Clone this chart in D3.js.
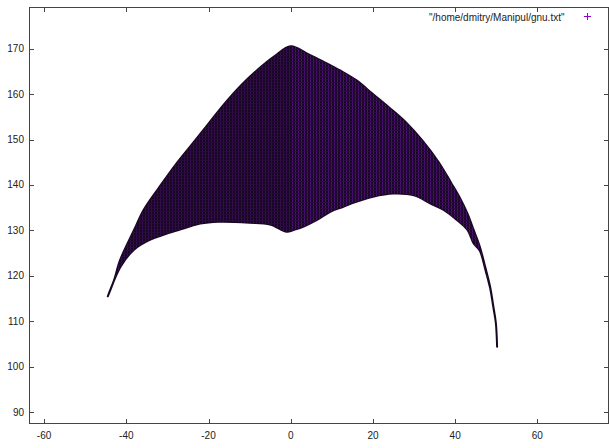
<!DOCTYPE html>
<html><head><meta charset="utf-8">
<script src="https://cdn.jsdelivr.net/npm/d3@7"></script>
<style>html,body{margin:0;padding:0;background:#fff;}svg{display:block;}</style>
</head><body>
<svg id="c" width="609" height="448"></svg>
<script>
// Upper envelope of the plotted point cloud
const upperX = [-44.5,-43,-41.5,-38,-35.8,-32,-28,-24,-20,-16,-12,-8,-4,0,4,8,12,16,20,24,28,32,36,39,41,43,44.5,46,47.3,48.5,49.3,49.9,50.2];
const upperY = [115.5,119,123.5,130.3,134.5,139.5,144.5,149,153.5,158,162,165.4,168.3,170.5,168.9,167.1,165.2,163.0,160,157,153.8,149.8,145,140.5,137.4,133.7,130.1,126.4,122,117.6,113.2,109.6,104.4];
// Lower envelope of the plotted point cloud
const lowerX = [-44.5,-43.9,-41.4,-38.2,-34.3,-30.1,-26.1,-22,-17.6,-10,-5,-1,0.7,3,6.4,9.6,12.8,15,20,25,30,34,37.2,40.4,43,44.5,46,47.3,48.5,49.3,49.9,50.2];
const lowerY = [115.5,116.9,122.0,125.7,127.9,129.3,130.4,131.5,131.9,131.7,131.3,129.7,130.1,130.8,132.3,134.1,135.2,136,137.4,138.1,137.7,135.9,134.5,132.3,130.1,127.1,125.5,121.5,117.3,113,109.6,104.4];
const xTicks = [-60,-40,-20,0,20,40,60];
const yTicks = [90,100,110,120,130,140,150,160,170];
const legendLabel = '"/home/dmitry/Manipul/gnu.txt"';

const svg = d3.select("#c");
const L = 29.5, R = 608.5, T = 7.5, B = 423.5;
const x = d3.scaleLinear().domain([-63.55, 77.3]).range([L, R]);
const y = d3.scaleLinear().domain([87.5, 179.05]).range([B, T]);

const defs = svg.append("defs");
const pL = defs.append("pattern").attr("id","texL").attr("patternUnits","userSpaceOnUse")
  .attr("width",3).attr("height",3);
pL.append("rect").attr("width",3).attr("height",3).attr("fill","#160620");
pL.append("rect").attr("x",1).attr("width",1).attr("height",3).attr("fill","#380c55");
pL.append("rect").attr("y",1).attr("width",3).attr("height",1).attr("fill","#280a3c");
const pR = defs.append("pattern").attr("id","texR").attr("patternUnits","userSpaceOnUse")
  .attr("width",3).attr("height",3);
pR.append("rect").attr("width",3).attr("height",3).attr("fill","#180624");
pR.append("rect").attr("x",1).attr("width",1).attr("height",3).attr("fill","#500f78");
pR.append("rect").attr("y",1).attr("width",3).attr("height",1).attr("fill","#2c0a44");

defs.append("clipPath").attr("id","leftClip").append("rect")
  .attr("x",0).attr("y",0).attr("width",x(0)).attr("height",448);
defs.append("clipPath").attr("id","rightClip").append("rect")
  .attr("x",x(0)).attr("y",0).attr("width",609-x(0)).attr("height",448);

// outline: upper left->right, then lower right->left
const poly = upperX.map((v,i)=>[v,upperY[i]])
  .concat(lowerX.map((v,i)=>[v,lowerY[i]]).reverse().slice(1));
const line = d3.line().x(d=>x(d[0])).y(d=>y(d[1])).curve(d3.curveCatmullRom.alpha(0.5));
const pathD = line(poly) + "Z";

svg.append("path").attr("d",pathD).attr("fill","#160620")
  .attr("stroke","#160620").attr("stroke-width",2).attr("stroke-linejoin","round");
svg.append("path").attr("d",pathD).attr("fill","url(#texL)").attr("clip-path","url(#leftClip)");
svg.append("path").attr("d",pathD).attr("fill","url(#texR)").attr("clip-path","url(#rightClip)");

// frame
const axisColor = "#444";
svg.append("rect").attr("x",L).attr("y",T).attr("width",R-L).attr("height",B-T)
  .attr("fill","none").attr("stroke",axisColor).attr("stroke-width",1);

const tl = 4.5;
const g = svg.append("g").attr("stroke",axisColor).attr("stroke-width",1);
xTicks.forEach(t=>{
  const px = Math.round(x(t))+0.5;
  g.append("line").attr("x1",px).attr("x2",px).attr("y1",B).attr("y2",B-tl);
  g.append("line").attr("x1",px).attr("x2",px).attr("y1",T).attr("y2",T+tl);
});
yTicks.forEach(t=>{
  const py = Math.round(y(t))+0.5;
  g.append("line").attr("x1",L).attr("x2",L+tl).attr("y1",py).attr("y2",py);
  g.append("line").attr("x1",R).attr("x2",R-tl).attr("y1",py).attr("y2",py);
});

const font = "'Liberation Sans', Arial, sans-serif";
svg.append("g").selectAll("text").data(xTicks).join("text")
  .attr("x",d=>x(d)).attr("y",B+11.5).attr("text-anchor","middle")
  .attr("dominant-baseline","central").attr("font-family",font).attr("font-size",10)
  .attr("fill","#222").text(d=>d);
svg.append("g").selectAll("text").data(yTicks).join("text")
  .attr("x",L-5.5).attr("y",d=>y(d)).attr("text-anchor","end")
  .attr("dominant-baseline","central").attr("font-family",font).attr("font-size",10)
  .attr("fill","#222").text(d=>d);

// legend
svg.append("text").attr("x",564.5).attr("y",17).attr("text-anchor","end")
  .attr("dominant-baseline","central").attr("font-family",font).attr("font-size",10)
  .attr("fill","#222").text(legendLabel);
const lg = svg.append("g").attr("stroke","#9400d3").attr("stroke-width",1);
lg.append("line").attr("x1",584).attr("x2",591).attr("y1",16.5).attr("y2",16.5);
lg.append("line").attr("x1",587.5).attr("x2",587.5).attr("y1",13).attr("y2",20);
</script>
</body></html>
